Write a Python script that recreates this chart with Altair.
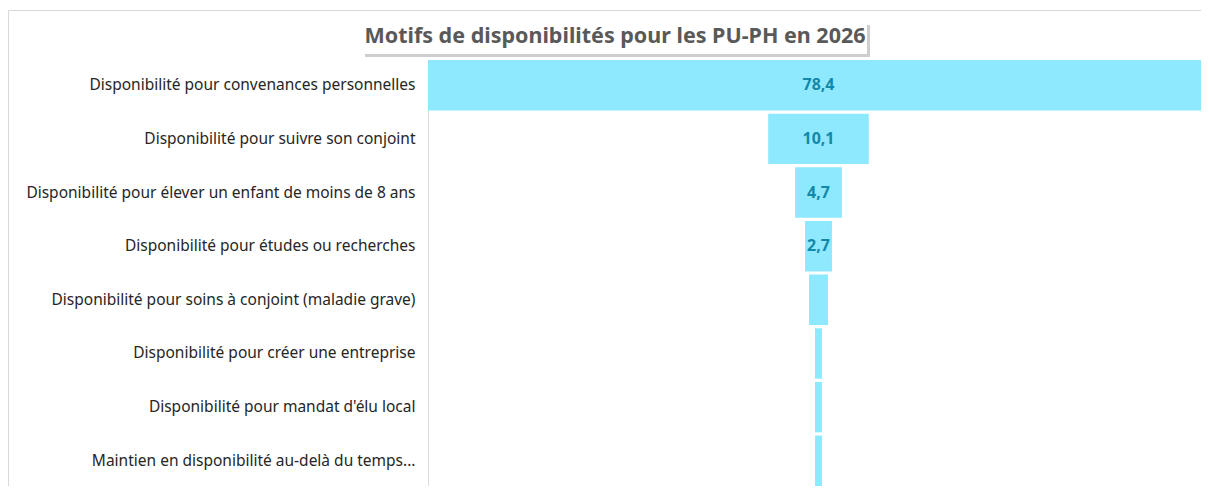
import altair as alt
import pandas as pd

categories = [
    "Disponibilité pour convenances personnelles",
    "Disponibilité pour suivre son conjoint",
    "Disponibilité pour élever un enfant de  moins de 8 ans",
    "Disponibilité pour études ou recherches",
    "Disponibilité pour soins à  conjoint  (maladie grave)",
    "Disponibilité pour créer une entreprise",
    "Disponibilité pour mandat d'élu local",
    "Maintien en disponibilité au-delà  du temps...",
]
values = [78.4, 10.1, 4.7, 2.7, 1.9, 0.7, 0.7, 0.7]
title_text = "Motifs de disponibilités pour les PU-PH en 2026"

df = pd.DataFrame({"cat": categories, "val": values})
df["label"] = [f"{v:.1f}".replace(".", ",") if v >= 2.5 else "" for v in values]

LEFT, TOP = 420, 52
W, H = 773, 426
CENTER = 818.5 - 8 - LEFT          # plot-x of the funnel axis
PX_PER_UNIT = 781 / max(values)
x_dom = [-CENTER / PX_PER_UNIT, (W - CENTER) / PX_PER_UNIT]

x_scale = alt.Scale(domain=x_dom, nice=False, zero=False)
y_enc = alt.Y("cat:N", sort=categories, title=None,
              scale=alt.Scale(paddingInner=0.06, paddingOuter=0.0),
              axis=alt.Axis(domain=False, ticks=False, labelFontSize=15.5,
                            labelFont="Noto Sans", labelColor="#262626",
                            labelPadding=13, labelLimit=400, zindex=5))

base = alt.Chart(df).transform_calculate(lo="-datum.val/2", hi="datum.val/2")

one = pd.DataFrame({"a": [0]})
border = alt.Chart(one).mark_rect(
    fill="transparent", stroke="#d9d9d9", strokeWidth=1
).encode(
    x=alt.value(-LEFT + 0.5), x2=alt.value(W + 40),
    y=alt.value(-TOP + 2.5), y2=alt.value(H + 40),
)

bars = base.mark_bar(color="#8ee8fe", clip=False).encode(
    x=alt.X("lo:Q", scale=x_scale, axis=None),
    x2="hi:Q",
    y=y_enc,
)

labels = base.mark_text(fontSize=16, fontWeight="bold", font="Noto Sans",
                        color="#1488a8").encode(
    x=alt.value(CENTER),
    y=alt.Y("cat:N", sort=categories),
    text="label:N",
)

TX = 615 - 8 - LEFT
BL, BR = 362 - 8 - LEFT, 867 - 8 - LEFT
BT, BB = 22 - 8 - TOP, 54 - 8 - TOP
shadow = alt.Chart(one).mark_rect(fill="#a6a6a6", opacity=0.55).encode(
    x=alt.value(BL + 3), x2=alt.value(BR + 3),
    y=alt.value(BT + 3), y2=alt.value(BB + 3),
)
tbox = alt.Chart(one).mark_rect(fill="white").encode(
    x=alt.value(BL), x2=alt.value(BR),
    y=alt.value(BT), y2=alt.value(BB),
)
title = alt.Chart(pd.DataFrame({"t": [title_text]})).mark_text(
    fontSize=21.5, fontWeight="bold", font="Noto Sans", color="#595959",
    align="center", baseline="middle"
).encode(x=alt.value(TX), y=alt.value(37 - 8 - TOP), text="t:N")

chart = alt.layer(border, bars, labels, shadow, tbox, title).properties(
    width=W, height=H,
    autosize=alt.AutoSizeParams(type="none"),
    padding={"left": LEFT, "top": TOP, "right": 0, "bottom": 0},
).configure_view(strokeWidth=0, stroke="transparent").configure(background="white")

chart.save("out.html", embed_options={"renderer": "svg", "actions": False})
